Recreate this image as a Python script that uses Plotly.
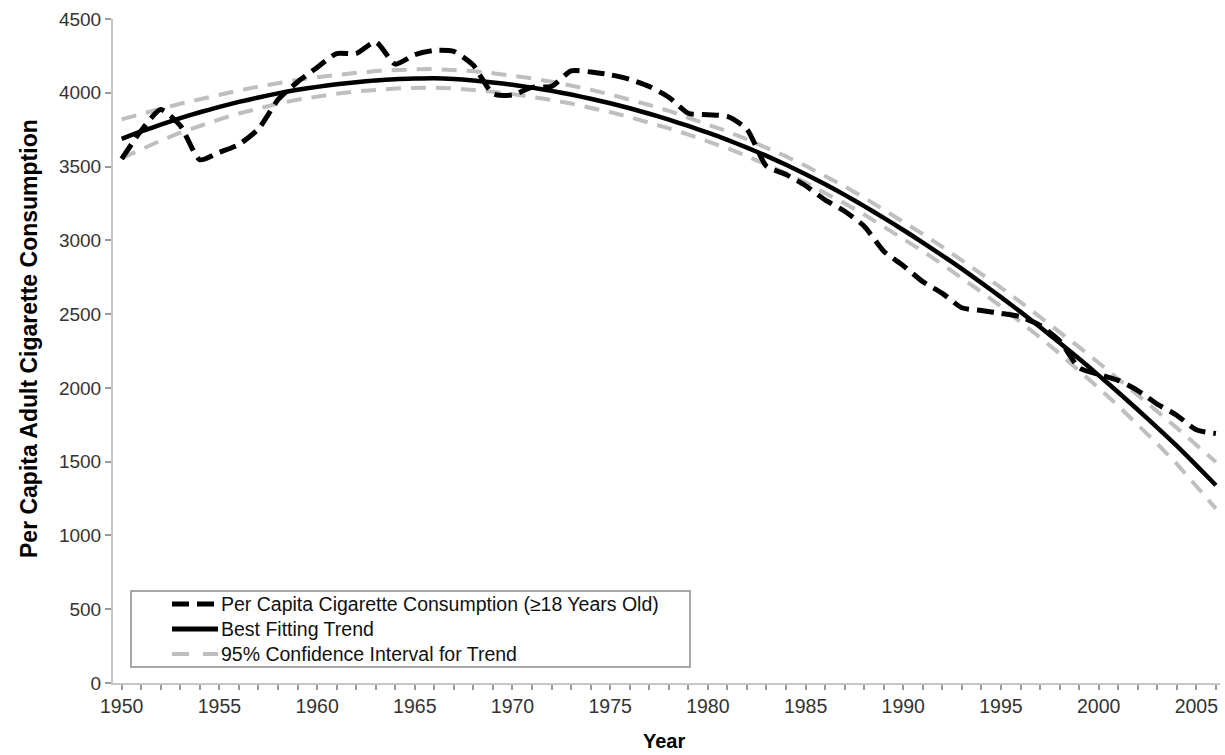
import plotly.graph_objects as go

years = list(range(1950, 2007))

consumption = [3552, 3744, 3886, 3778, 3546, 3597, 3650, 3755, 3953, 4073,
               4171, 4266, 4266, 4345, 4194, 4258, 4287, 4280, 4186, 3993,
               3985, 4037, 4043, 4148, 4141, 4122, 4091, 4043, 3970, 3861,
               3851, 3840, 3753, 3502, 3446, 3370, 3274, 3197, 3096, 2926,
               2828, 2720, 2641, 2543, 2524, 2505, 2482, 2423, 2320, 2136,
               2092, 2051, 1982, 1890, 1814, 1716, 1691]

trend = [3688, 3738, 3784, 3828, 3868, 3904, 3938, 3968, 3996, 4020,
         4040, 4058, 4072, 4084, 4092, 4096, 4098, 4093, 4083, 4070,
         4054, 4035, 4013, 3988, 3960, 3929, 3895, 3858, 3818, 3775,
         3730, 3681, 3628, 3572, 3512, 3448, 3380, 3308, 3232, 3152,
         3070, 2985, 2897, 2806, 2712, 2615, 2515, 2412, 2306, 2197,
         2085, 1970, 1852, 1731, 1607, 1475, 1340]

ci_upper = [3820, 3858, 3892, 3926, 3958, 3988, 4016, 4042, 4066, 4087,
            4105, 4122, 4135, 4147, 4155, 4159, 4161, 4156, 4146, 4133,
            4117, 4097, 4075, 4049, 4021, 3989, 3955, 3917, 3877, 3833,
            3788, 3738, 3685, 3629, 3569, 3505, 3437, 3365, 3289, 3209,
            3128, 3043, 2956, 2866, 2774, 2679, 2582, 2482, 2380, 2276,
            2170, 2062, 1952, 1841, 1729, 1613, 1498]

ci_lower = [3556, 3618, 3676, 3730, 3778, 3820, 3860, 3894, 3926, 3953,
            3975, 3994, 4009, 4021, 4029, 4033, 4035, 4030, 4020, 4007,
            3991, 3973, 3951, 3927, 3899, 3869, 3835, 3799, 3759, 3717,
            3672, 3624, 3571, 3515, 3455, 3391, 3323, 3251, 3175, 3095,
            3012, 2927, 2838, 2746, 2650, 2551, 2448, 2342, 2232, 2118,
            2000, 1878, 1752, 1621, 1485, 1337, 1182]

legend_labels = ["Per Capita Cigarette Consumption (\u226518 Years Old)",
                 "Best Fitting Trend",
                 "95% Confidence Interval for Trend"]

FONT = "Liberation Sans, Arial, sans-serif"
GRAY = "#bfbfbf"
AXIS = "#c6c6c6"
TICK = "#9a9a9a"

W, H = 1225, 755
ML, MR, MT, MB = 113, 5, 19, 72
PW, PH = W - ML - MR, H - MT - MB


def xp(px):
    return (px - ML) / PW


def yp(py):
    return (H - MB - py) / PH


fig = go.Figure()

fig.add_trace(go.Scatter(x=years, y=ci_upper, mode="lines", showlegend=False,
                         line=dict(color=GRAY, width=4, dash="15px,10px")))
fig.add_trace(go.Scatter(x=years, y=ci_lower, mode="lines", showlegend=False,
                         line=dict(color=GRAY, width=4, dash="15px,10px")))
fig.add_trace(go.Scatter(x=years, y=trend, mode="lines", showlegend=False,
                         line=dict(color="black", width=4.5, shape="spline", smoothing=0.6)))
fig.add_trace(go.Scatter(x=years, y=consumption, mode="lines", showlegend=False,
                         line=dict(color="black", width=5, dash="17px,8px",
                                   shape="spline", smoothing=0.6)))

# manual legend
shapes = [dict(type="rect", xref="paper", yref="paper",
               x0=xp(131), x1=xp(690), y0=yp(667), y1=yp(591),
               line=dict(color="#8c8c8c", width=1.5), fillcolor="white", layer="below")]
rows = [604, 629, 654]
styles = [dict(color="black", width=5, dash="17px,8px"),
          dict(color="black", width=5),
          dict(color=GRAY, width=4, dash="17px,14px")]
annotations = []
for ry, st, lab in zip(rows, styles, legend_labels):
    shapes.append(dict(type="line", xref="paper", yref="paper",
                       x0=xp(172), x1=xp(218), y0=yp(ry), y1=yp(ry), line=st))
    annotations.append(dict(xref="paper", yref="paper", x=xp(219), y=yp(ry),
                            text=lab, showarrow=False, xanchor="left", yanchor="middle",
                            font=dict(family=FONT, size=19.5, color="#111111")))

annotations.append(dict(xref="paper", yref="paper", x=xp(664), y=yp(741),
                        text="<b>Year</b>", showarrow=False, xanchor="center",
                        yanchor="middle", font=dict(family=FONT, size=20, color="black")))
annotations.append(dict(xref="paper", yref="paper", x=xp(29), y=yp(339),
                        text="<b>Per Capita Adult Cigarette Consumption</b>",
                        showarrow=False, textangle=-90, xanchor="center",
                        yanchor="middle", font=dict(family=FONT, size=23, color="black")))

x_range = [1949.555, 2006.21]

fig.update_layout(
    width=W, height=H,
    margin=dict(l=ML, r=MR, t=MT, b=MB),
    paper_bgcolor="white", plot_bgcolor="white",
    showlegend=False,
    shapes=shapes,
    annotations=annotations,
    xaxis=dict(range=x_range, tick0=1950, dtick=5, ticks="outside", ticklen=5,
               tickwidth=1.5, tickcolor=TICK, showline=True, linecolor=AXIS,
               linewidth=2, showgrid=False, zeroline=False,
               minor=dict(dtick=1, tick0=1950, ticks="outside", ticklen=5,
                          tickwidth=1.5, tickcolor=TICK, showgrid=False),
               tickfont=dict(family=FONT, size=19.5, color="#333333")),
    xaxis2=dict(range=x_range, overlaying="x", anchor="y", side="bottom",
                tick0=1950, dtick=1, ticks="inside", ticklen=5, tickwidth=1.5,
                tickcolor=TICK, showticklabels=False, showline=False,
                showgrid=False, zeroline=False),
    yaxis=dict(range=[0, 4500], dtick=500, ticks="outside", ticklen=6,
               tickwidth=1.5, tickcolor=TICK, showline=True, linecolor=AXIS,
               linewidth=2, showgrid=False, zeroline=False,
               tickfont=dict(family=FONT, size=19, color="#333333")),
)

fig.write_html(
    "out.html",
    config={"displayModeBar": False},
    post_script="document.body.style.margin='0';document.body.style.padding='0';"
                "document.body.style.overflow='hidden';",
)
